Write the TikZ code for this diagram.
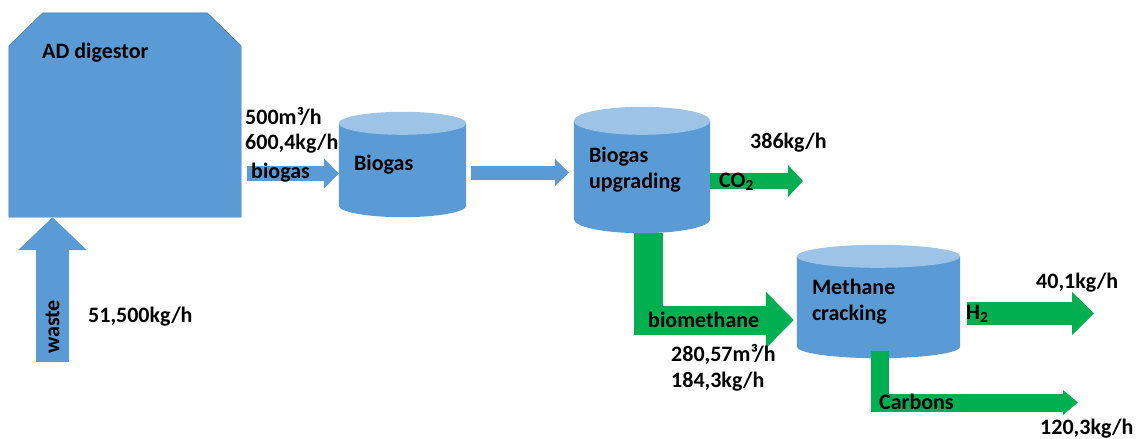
\documentclass[tikz,border=0pt]{standalone}
\usepackage{fontspec}
\setmainfont{Carlito}
\usetikzlibrary{positioning,arrows.meta,backgrounds,calc}
\definecolor{tankblue}{RGB}{91,155,213}
\definecolor{tanktop}{RGB}{157,195,230}
\definecolor{tankedge}{RGB}{65,113,156}
\definecolor{flowgreen}{RGB}{0,176,80}
\newcommand{\flowfont}{\fontsize{22}{26}\selectfont\bfseries}
% cylinder body and lid behind a named node: #1 node, #2 lid radius
\newcommand{\tankshape}[2]{%
  \fill[tankblue] let \p1=(#1.north west), \p2=(#1.south east), \n1={(\x2-\x1)/2} in
    (\x1,\y1-#2) -- (\x1,\y2+#2) arc[start angle=180,end angle=360,x radius=\n1,y radius=#2] -- (\x2,\y1-#2) -- cycle;
  \fill[tanktop] let \p1=(#1.north west), \p2=(#1.south east), \n1={(\x2-\x1)/2} in
    (\x1+\n1,\y1-#2) ellipse[x radius=\n1,y radius=#2];
}
\tikzset{
  tank/.style={rectangle,align=left,inner xsep=15pt,inner ysep=0pt,font=\flowfont},
  digester/.style={rectangle,inner sep=0pt},
  lbl/.style={font=\flowfont,inner sep=0pt,anchor=west},
  blueflow/.style={draw=tankblue,line width=#1,line join=miter},
  greenflow/.style={draw=flowgreen,line width=#1,line join=miter}
}
\begin{document}
\begin{tikzpicture}[x=1pt,y=-1pt]
  \useasboundingbox (0,0) rectangle (1136,439);

  \node[digester,minimum width=232pt,minimum height=204pt] (ad) at (125,115) {};
  \node[tank,text width=97pt,minimum height=105pt] (biogas) at (402.5,164.5) {Biogas};
  \node[tank,text width=106pt,minimum height=126pt] (upg) at (642,170) {Biogas\\upgrading};
  \node[tank,text width=133pt,minimum height=113pt] (crack) at (878.5,301.5) {Methane\\cracking};

  \begin{scope}[on background layer]
    \filldraw[fill=tankblue,draw=tankedge,thin] (ad.south west) -- ([yshift=-33pt]ad.north west) -- ([xshift=34pt]ad.north west)
      -- ([xshift=-34pt]ad.north east) -- ([yshift=-33pt]ad.north east) -- (ad.south east) -- cycle;
    \tankshape{biogas}{11.5pt}
    \tankshape{upg}{14pt}
    \tankshape{crack}{11.5pt}
  \end{scope}

  \coordinate (wastein) at (52.5,362);
  \coordinate (co2out) at (803,181);
  \coordinate (h2out) at (1094,313.5);
  \coordinate (cout) at (1078,402.5);

  % blue flows
  \draw[blueflow=33pt,-{Triangle[length=33pt,width=67pt]}] (wastein) -- (wastein |- ad.south);
  \draw[blueflow=15pt,-{Triangle[length=15pt,width=30pt]}] ([xshift=6pt]ad.east |- 0,173.5) -- (biogas.west |- 0,173.5);
  \draw[blueflow=14pt,-{Triangle[length=14pt,width=27pt]}] ([xshift=5pt]biogas.east |- 0,172.5) -- ([xshift=-5pt]upg.west |- 0,172.5);

  % green flows
  \draw[greenflow=16pt,-{Triangle[length=15pt,width=31pt]}] (upg.east |- co2out) -- (co2out);
  \draw[greenflow=29pt,-{Triangle[length=28pt,width=55pt]}] (upg.south -| 648.5,0) -- (648.5,320) -- ([xshift=-3pt]crack.west |- 0,320);
  \draw[greenflow=23pt,-{Triangle[length=22pt,width=42pt]}] ([xshift=7pt]crack.east |- h2out) -- (h2out);
  \draw[greenflow=18pt,-{Triangle[length=15pt,width=24pt]}] ([yshift=7pt]crack.south -| 880,0) -- (880,402.5) -- (cout);

  \node[lbl] (adname) at (42,53) {AD digestor};
  \node[lbl] (bgrate) at (245,116) {500m³/h};
  \node[lbl] (bgmass) at (245,144) {600,4kg/h};
  \node[lbl] (bgname) at (251,173) {biogas};
  \node[lbl,rotate=90,anchor=center] (wname) at (52.5,327) {waste};
  \node[lbl] (wmass) at (88,317) {51,500kg/h};
  \node[lbl] (co2mass) at (750,143) {386kg/h};
  \node[lbl] (co2name) at (719,182) {CO\textsubscript{2}};
  \node[lbl] (bmname) at (648,320) {biomethane};
  \node[lbl,align=left] (bmrate) at (671,368) {280,57m³/h\\184,3kg/h};
  \node[lbl] (h2mass) at (1036,283) {40,1kg/h};
  \node[lbl] (h2name) at (966,314) {H\textsubscript{2}};
  \node[lbl] (cname) at (879,402) {Carbons};
  \node[lbl] (cmass) at (1040,429) {120,3kg/h};
\end{tikzpicture}
\end{document}
